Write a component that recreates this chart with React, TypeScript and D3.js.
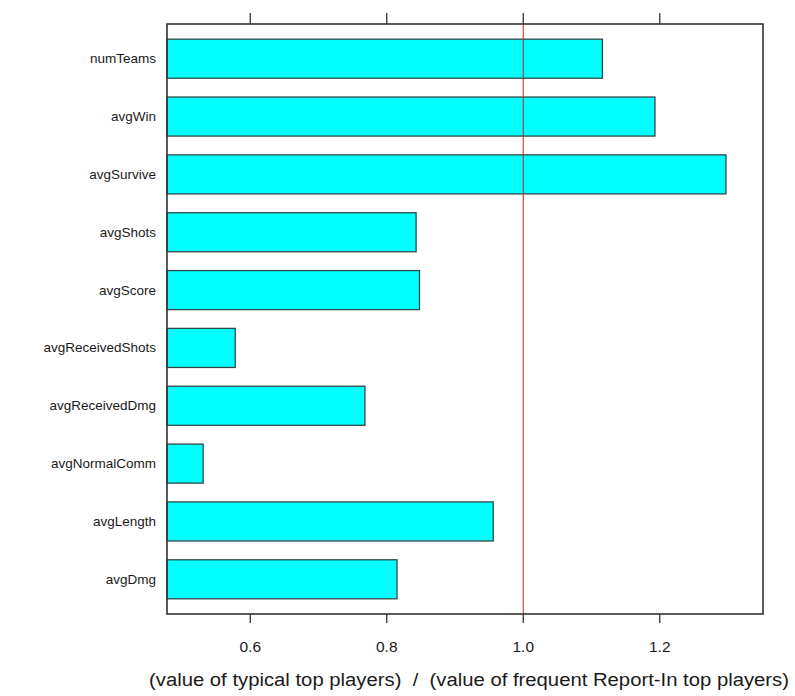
import React from "react";
import * as d3 from "d3";

const categories = [
  "numTeams",
  "avgWin",
  "avgSurvive",
  "avgShots",
  "avgScore",
  "avgReceivedShots",
  "avgReceivedDmg",
  "avgNormalComm",
  "avgLength",
  "avgDmg",
];
const values = [1.116, 1.193, 1.297, 0.843, 0.848, 0.578, 0.768, 0.531, 0.956, 0.815];
const xTicks = [0.6, 0.8, 1.0, 1.2];
const xTickLabels = ["0.6", "0.8", "1.0", "1.2"];
const refValue = 1.0;
const xTitle = "(value of typical top players)  /  (value of frequent Report-In top players)";

const W = 795;
const H = 696;
const left = 167;
const right = 763;
const top = 24;
const bottom = 614;

export default function App() {
  const x = d3.scaleLinear().domain([0.478, 1.3513]).range([left, right]);
  const y = d3.scaleLinear().domain([0.4, categories.length + 0.6]).range([top, bottom]);
  const bh = y(1.3375) - y(0.6625);
  const font = "'Liberation Sans', Arial, sans-serif";
  return (
    <svg width={W} height={H} style={{ position: "absolute", left: 0, top: 0, background: "#fff" }}>
      <rect x={0} y={0} width={W} height={H} fill="#fff" />
      {categories.map((c, i) => (
        <g key={c}>
          <rect
            x={x(x.domain()[0])}
            y={y(i + 1) - bh / 2}
            width={x(values[i]) - x(x.domain()[0])}
            height={bh}
            fill="#00FFFF"
            stroke="#354848"
            strokeWidth={1.3}
          />
          <text
            x={left - 11}
            y={y(i + 1)}
            textAnchor="end"
            dominantBaseline="central"
            fontFamily={font}
            fontSize={13.5}
            fill="#1a1a1a"
          >
            {c}
          </text>
        </g>
      ))}
      <line x1={x(refValue)} x2={x(refValue)} y1={top} y2={bottom} stroke="#cc2222" strokeWidth={1} />
      <rect x={left} y={top} width={right - left} height={bottom - top} fill="none" stroke="#333" strokeWidth={1.6} />
      {xTicks.map((t, i) => (
        <g key={t}>
          <line x1={x(t)} x2={x(t)} y1={top} y2={top - 11} stroke="#333" strokeWidth={1.3} />
          <line x1={x(t)} x2={x(t)} y1={bottom} y2={bottom + 9} stroke="#333" strokeWidth={1.3} />
          <text
            x={x(t)}
            y={646}
            textAnchor="middle"
            dominantBaseline="central"
            fontFamily={font}
            fontSize={15.5}
            fill="#1a1a1a"
          >
            {xTickLabels[i]}
          </text>
        </g>
      ))}
      <text
        x={469}
        y={680}
        textAnchor="middle"
        dominantBaseline="central"
        fontFamily={font}
        fontSize={18}
        textLength={640}
        lengthAdjust="spacingAndGlyphs"
        fill="#1a1a1a"
        style={{ whiteSpace: "pre" }}
      >
        {xTitle}
      </text>
    </svg>
  );
}
